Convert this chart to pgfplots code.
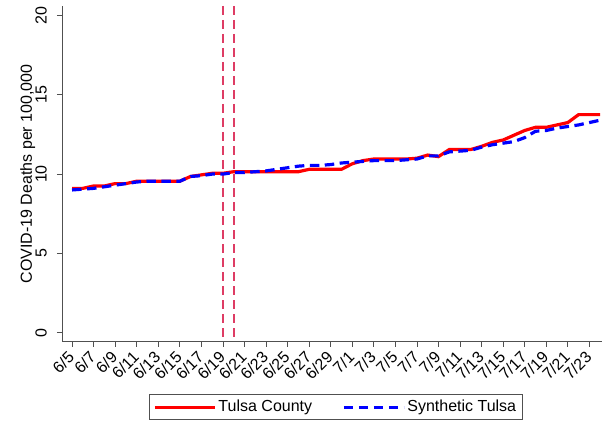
\documentclass[border=0pt]{standalone}
\usepackage{fontspec}
\setmainfont{Liberation Sans}
\usepackage{pgfplots}
\pgfplotsset{compat=1.18}
\definecolor{vline}{RGB}{222,60,100}
\definecolor{axgray}{RGB}{80,80,80}
\begin{document}
\fontsize{16bp}{19bp}\selectfont
\begin{tikzpicture}
\useasboundingbox (-62bp,-79.3bp) rectangle (540bp,341.7bp);
\begin{axis}[
  at={(0,0)}, anchor=south west,
  scale only axis, width=540bp, height=335.7bp,
  xmin=-0.93, xmax=49.17, ymin=-0.57, ymax=20.6,
  axis x line*=bottom, axis y line*=left,
  axis line style={axgray, line width=0.8bp},
  tick style={axgray, line width=0.8bp},
  tick align=outside, major tick length=5bp,
  xtick={0,2,...,48},
  xticklabels={6/5,6/7,6/9,6/11,6/13,6/15,6/17,6/19,6/21,6/23,6/25,6/27,6/29,7/1,7/3,7/5,7/7,7/9,7/11,7/13,7/15,7/17,7/19,7/21,7/23},
  ytick={0,5,10,15,20},
  /pgf/number format/assume math mode=true,
  ticklabel style={font=\fontsize{16bp}{19bp}\selectfont},
  yticklabel shift=10bp,
  xticklabel shift=7bp,
  yticklabel style={rotate=90, anchor=south, inner sep=0pt},
  xticklabel style={rotate=45, anchor=east, inner sep=1bp},
  ylabel={COVID-19 Deaths per 100,000},
  every axis y label/.style={at={(axis description cs:-0.0491,0.5)}, rotate=90, anchor=south, inner sep=0pt, font=\fontsize{16bp}{19bp}\selectfont},
  legend columns=2,
  legend image code/.code={\draw[#1] (0bp,0bp) -- (60bp,0bp);},
  legend style={at={(axis description cs:0.5069,-0.1567)}, anchor=north,
    draw=axgray, line width=0.8bp, fill=white,
    inner xsep=4bp, inner ysep=3.5bp,
    font=\fontsize{16bp}{19bp}\selectfont,
    /tikz/every even column/.append style={column sep=28bp}},
]
\addplot[vline, line width=1.6bp, dash pattern=on 9bp off 5bp, forget plot] coordinates {(14,20.6) (14,-0.6)};
\addplot[vline, line width=1.6bp, dash pattern=on 9bp off 5bp, forget plot] coordinates {(15,20.6) (15,-0.6)};
\addplot[red, line width=3.2bp] coordinates {
(0,9.1) (1,9.1) (2,9.25) (3,9.25) (4,9.4) (5,9.4) (6,9.55) (7,9.55) (8,9.55) (9,9.55)
(10,9.55) (11,9.85) (12,9.95) (13,10.05) (14,10.05) (15,10.15) (16,10.15) (17,10.15) (18,10.15) (19,10.15)
(20,10.15) (21,10.15) (22,10.3) (23,10.3) (24,10.3) (25,10.3) (26,10.65) (27,10.85) (28,10.95) (29,10.95)
(30,10.95) (31,10.95) (32,11.0) (33,11.2) (34,11.1) (35,11.55) (36,11.55) (37,11.55) (38,11.75) (39,12.0)
(40,12.15) (41,12.45) (42,12.75) (43,12.95) (44,12.95) (45,13.1) (46,13.25) (47,13.75) (48,13.75) (49,13.75)
};
\addlegendentry{Tulsa County}
\addplot[blue, line width=3.2bp, dash pattern=on 9.5bp off 5.5bp] coordinates {
(0,9.0) (1,9.05) (2,9.1) (3,9.2) (4,9.3) (5,9.4) (6,9.5) (7,9.55) (8,9.55) (9,9.55)
(10,9.55) (11,9.85) (12,9.9) (13,10.0) (14,10.0) (15,10.1) (16,10.1) (17,10.15) (18,10.2) (19,10.3)
(20,10.4) (21,10.5) (22,10.55) (23,10.55) (24,10.6) (25,10.7) (26,10.75) (27,10.8) (28,10.85) (29,10.85)
(30,10.85) (31,10.9) (32,10.95) (33,11.15) (34,11.15) (35,11.4) (36,11.45) (37,11.5) (38,11.7) (39,11.85)
(40,11.95) (41,12.05) (42,12.3) (43,12.7) (44,12.75) (45,12.9) (46,13.0) (47,13.1) (48,13.25) (49,13.4)
};
\addlegendentry{Synthetic Tulsa}
\end{axis}
\end{tikzpicture}
\end{document}
